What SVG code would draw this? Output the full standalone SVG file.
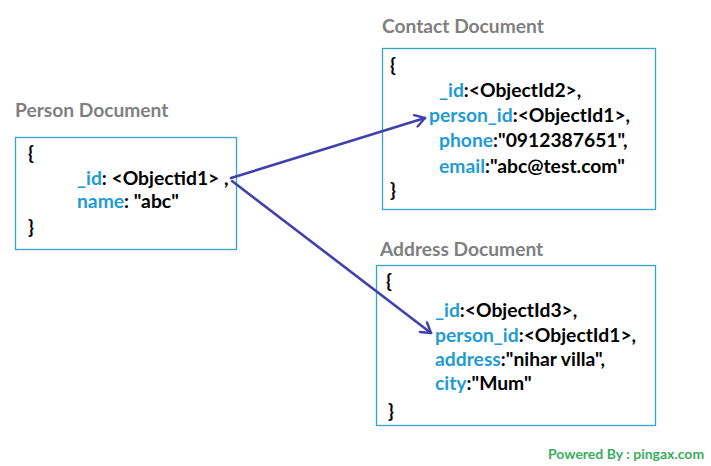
<svg xmlns="http://www.w3.org/2000/svg" width="711" height="466" viewBox="0 0 711 466">
<defs>
<style>
text{font-family:Lato,"Open Sans","Liberation Sans",sans-serif;font-weight:bold;font-size:19.3px;fill:#000}
.title{fill:#7f7f7f;font-size:19.2px}
.k{fill:#1f9bd5}
.box{fill:#fff;stroke:#33a5c8;stroke-width:1.3}
.conn{fill:none;stroke:#4141ad;stroke-width:2.6;stroke-linecap:round;stroke-linejoin:round}
.foot{fill:#3aad5c;font-size:14px}
</style>
<marker id="ah" viewBox="0 0 12 12" refX="10" refY="6" markerWidth="5.5" markerHeight="5.5" orient="auto" markerUnits="strokeWidth">
<path d="M2,1 L10,6 L2,11" fill="none" stroke="#4141ad" stroke-width="2" stroke-linecap="round" stroke-linejoin="round"/>
</marker>
</defs>
<rect width="711" height="466" fill="#fff"/>
<g id="person">
<text class="title" x="15" y="117">Person Document</text>
<rect class="box" x="15.5" y="137.5" width="221" height="112"/>
<text x="28" y="160">{</text>
<text x="77" y="185"><tspan class="k">_id</tspan>: &lt;Objectid1&gt; ,</text>
<text x="77" y="208"><tspan class="k">name</tspan>: "abc"</text>
<text x="28" y="234">}</text>
</g>
<g id="contact">
<text class="title" x="382" y="33">Contact Document</text>
<rect class="box" x="382.5" y="48.5" width="273" height="161"/>
<text x="390" y="72">{</text>
<text x="439" y="97"><tspan class="k">_id</tspan>:&lt;ObjectId2&gt;,</text>
<text x="429" y="122"><tspan class="k">person_id</tspan>:&lt;ObjectId1&gt;,</text>
<text x="439" y="147"><tspan class="k">phone</tspan>:"0912387651",</text>
<text x="439" y="173"><tspan class="k">email</tspan>:"abc@test.com"</text>
<text x="390" y="197">}</text>
</g>
<g id="address">
<text class="title" x="380" y="256">Address Document</text>
<rect class="box" x="376.5" y="265.5" width="279" height="160"/>
<text x="386" y="288">{</text>
<text x="435" y="317"><tspan class="k">_id</tspan>:&lt;ObjectId3&gt;,</text>
<text x="435" y="342"><tspan class="k">person_id</tspan>:&lt;ObjectId1&gt;,</text>
<text x="435" y="366"><tspan class="k">address</tspan>:"nihar villa",</text>
<text x="435" y="390"><tspan class="k">city</tspan>:"Mum"</text>
<text x="388" y="418">}</text>
</g>
<g id="connectors">
<path class="conn" d="M231,178 L425,118" marker-end="url(#ah)"/>
<path class="conn" d="M232,181 L431,333" marker-end="url(#ah)"/>
</g>
<g id="footer">
<text class="foot" x="548" y="459">Powered By : pingax.com</text>
</g>
</svg>
